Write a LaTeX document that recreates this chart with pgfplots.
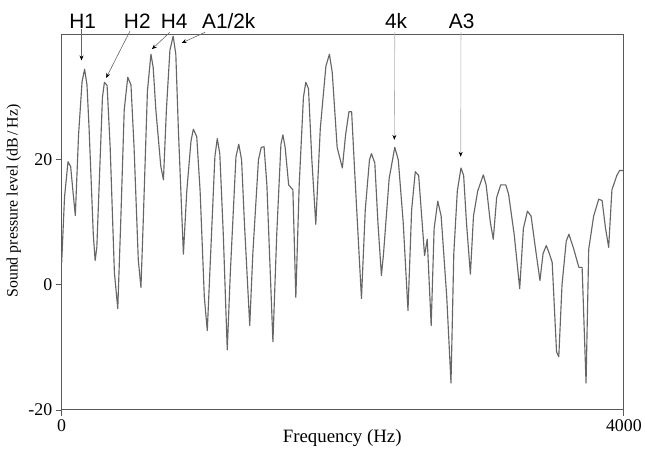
\documentclass[border=0pt]{standalone}
\usepackage{fontspec}
\setmainfont{Liberation Serif}
\newfontfamily\annfont{Liberation Sans}
\usepackage{pgfplots}
\pgfplotsset{compat=1.18}
\usetikzlibrary{arrows.meta}

\pgfplotstableread{
f    spl
0    3.6
20   14
45   19.7
64   18.9
80   15
97   11.1
120  24
145  32.5
163  34.5
180  32
195  25
225  8
238  3.9
250  6
270  18
290  30
304  32.4
323  31.9
345  22
375  2
399  -3.8
420  10
445  28
470  33.2
493  32
515  22
545  4
564  -0.4
580  10
610  31
635  36.9
651  34.8
670  28
705  19
724  16.8
745  28
770  37.5
793  39.8
812  36.9
830  25
866  4.9
890  15
920  23
937  24.9
961  23.7
985  15
1015 -2
1036 -7.3
1060 5
1090 20.5
1107 23.4
1125 21
1150 8
1178 -10.4
1200 2
1240 20.5
1260 22.5
1280 20
1300 10
1338 -6.5
1360 5
1400 20
1420 22
1440 22.1
1460 16
1503 -9.1
1530 8
1560 22.5
1574 24
1590 22
1615 16
1645 15.2
1666 -2
1690 16
1720 30
1737 32.4
1756 31.4
1780 20
1808 9.7
1840 25
1880 35
1905 36.9
1925 34
1960 22
1997 18.7
2020 24
2044 27.7
2063 27.7
2085 18
2133 -2.2
2160 12
2190 20
2204 21
2228 19.5
2250 10
2275 1.5
2290 5
2330 17
2370 22
2395 20
2430 10
2464 -4.1
2490 12
2516 18.1
2540 17.5
2582 4.7
2601 7.3
2629 -6.5
2650 9
2676 13.4
2700 11
2740 -2
2770 -15.7
2790 5
2815 15
2841 18.7
2860 17.5
2880 10
2908 1.7
2930 11
2960 15
3000 17.6
3020 16
3050 10
3071 7.3
3095 14
3124 16
3160 16
3180 14.5
3220 8
3259 -0.6
3285 9
3314 11.8
3340 11
3370 6
3403 0.7
3425 5
3448 6.3
3470 5
3490 3.6
3521 -10.7
3537 -11.5
3560 0
3590 7
3609 8.1
3640 6
3680 2.8
3703 2.8
3731 -15.7
3750 5.7
3785 11
3821 13.7
3845 13.5
3870 9
3892 6
3915 15.2
3950 17.5
3970 18.3
3995 18.3
}\spectrum

\begin{document}
\begin{tikzpicture}
  \begin{axis}[
    scale only axis,
    width=565bp, height=377bp,
    xmin=0, xmax=4000,
    ymin=-20, ymax=40,
    xtick={0,4000},
    ytick={-20,0,20},
    scaled ticks=false,
    /pgf/number format/1000 sep={},
    /pgf/number format/assume math mode=true,
    tick align=outside,
    major tick length=6bp,
    xtick pos=bottom, ytick pos=left,
    tick style={black!65, line width=0.8pt},
    axis line style={black!65, line width=0.9pt},
    ticklabel style={font=\fontsize{18}{20}\selectfont},
    xlabel={Frequency (Hz)},
    ylabel={Sound pressure level (dB\,/\,Hz)},
    xlabel style={font=\fontsize{19}{22}\selectfont, at={(axis description cs:0.499,-0.074)}, anchor=center},
    ylabel style={font=\fontsize{16}{19}\selectfont, at={(axis description cs:-0.085,0.557)}, anchor=center},
    clip=false,
  ]
    \addplot[color=black!60, line width=1.15pt, line join=round, mark=none] table[x=f, y=spl] {\spectrum};

    \coordinate (bl) at (rel axis cs:0,0);
    \coordinate (tr) at (rel axis cs:1,1);

    % annotations
    \begin{scope}[every node/.style={font=\annfont\fontsize{21}{24}\selectfont, inner sep=0pt}]
      \node at (axis cs:149,42.2) {H1};
      \node at (axis cs:538,42.2) {H2};
      \node at (axis cs:800,42.2) {H4};
      \node at (axis cs:1189,42.2) {A1/2k};
      \node at (axis cs:2379,42.2) {4k};
      \node at (axis cs:2846,42.2) {A3};
    \end{scope}
    \begin{scope}[line width=0.6pt, -{Stealth[black, length=5bp, width=4bp]}]
      \draw[black!60] (axis cs:141,40.9) -- (axis cs:141,35.9);
      \draw[black!60] (axis cs:486,40.6) -- (axis cs:316,33.1);
      \draw[black!60] (axis cs:769,40.4) -- (axis cs:642,37.7);
      \draw[black!60] (axis cs:1020,40.4) -- (axis cs:854,38.7);
      \draw[black!30] (axis cs:2370,40.4) -- (axis cs:2367,23.2);
      \draw[black!30] (axis cs:2841,40.4) -- (axis cs:2839,20.5);
    \end{scope}
  \end{axis}
  \path ([shift={(-62bp,-38bp)}]bl) rectangle ([shift={(18bp,35bp)}]tr);
\end{tikzpicture}
\end{document}
